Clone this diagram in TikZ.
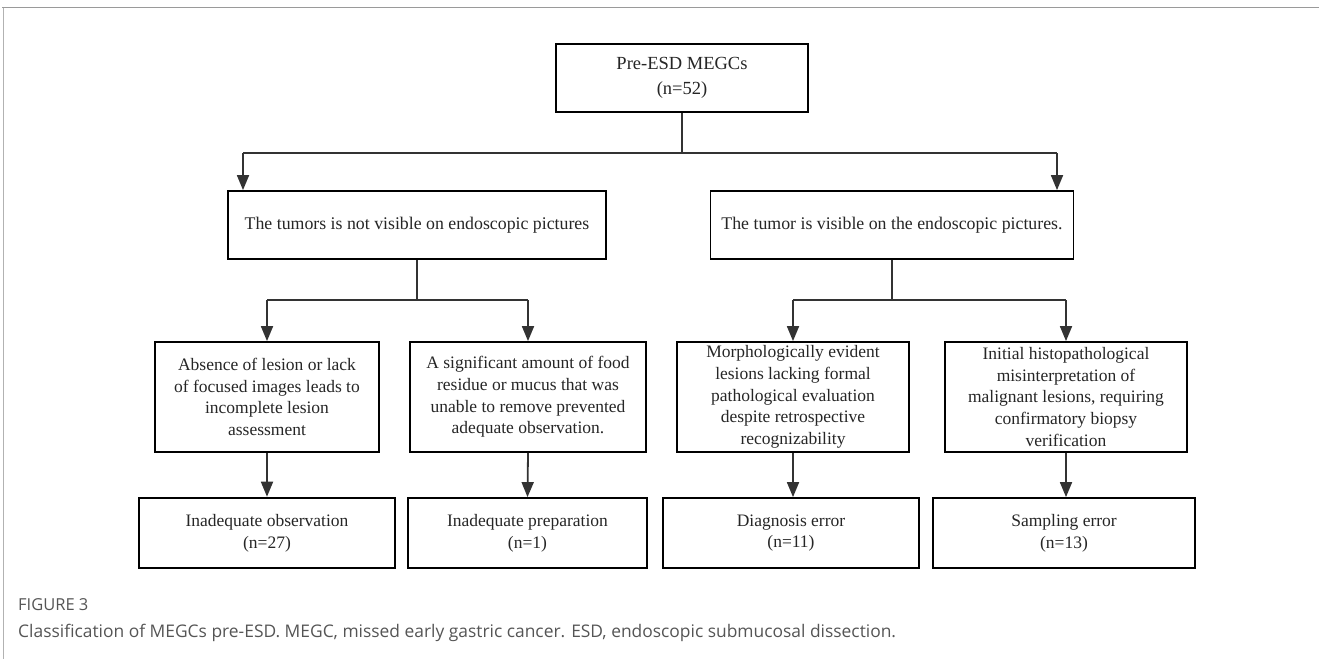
\documentclass[tikz,border=0pt]{standalone}
\usepackage{fontspec}
\setmainfont{Liberation Serif}
\newfontfamily\capfont{Open Sans}
\usetikzlibrary{arrows.meta}
\definecolor{conn}{HTML}{333333}
\definecolor{capgray}{HTML}{555555}
\definecolor{framegray}{HTML}{9A9A9A}
\begin{document}
\begin{tikzpicture}[x=1pt,y=-1pt,
  box/.style={draw=black, line width=1.8pt, fill=white, inner sep=0pt, align=center,
    font=\fontsize{17.5}{21.7}\selectfont, text=black!85},
  thickbox/.style={box, line width=2.6pt},
  conline/.style={draw=conn, line width=1.8pt},
  arr/.style={conline, -{Triangle[length=15pt,width=12pt]}},
  captxt/.style={anchor=west, inner sep=0pt, text=capgray}
]
\useasboundingbox (0,0) rectangle (1319,659);
% frame
\draw[framegray, line width=1.4pt] (2,7.5) -- (1319,7.5);
\draw[black!30, line width=0.8pt] (3.5,7.5) -- (3.5,659);

% nodes
\node[thickbox, minimum width=252pt, minimum height=68pt, font=\fontsize{18.5}{25}\selectfont] (top) at (682,78) {Pre-ESD MEGCs\\(n=52)};

\node[box, minimum width=378pt, minimum height=68pt, font=\fontsize{17.8}{22}\selectfont] (l2a) at (417,225) {The tumors is not visible on endoscopic pictures};
\node[box, minimum width=363pt, minimum height=68pt, font=\fontsize{17.8}{22}\selectfont] (l2b) at (892,225) {The tumor is visible on the endoscopic pictures.};

\node[box, minimum width=224pt, minimum height=110pt] (l3a) at (267,397) {Absence of lesion or lack\\of focused images leads to\\incomplete lesion\\assessment};
\node[box, minimum width=236pt, minimum height=110pt] (l3b) at (528,397) {A significant amount of food\\residue or mucus that was\\unable to remove prevented\\adequate observation.};
\node[box, minimum width=232pt, minimum height=110pt] (l3c) at (793,397) {Morphologically evident\\lesions lacking formal\\pathological evaluation\\despite retrospective\\recognizability};
\node[box, minimum width=242pt, minimum height=110pt] (l3d) at (1066,397) {Initial histopathological\\misinterpretation of\\malignant lesions, requiring\\confirmatory biopsy\\verification};

\node[thickbox, minimum width=256pt, minimum height=70pt] (l4a) at (267,533) {Inadequate observation\\(n=27)};
\node[box, minimum width=239pt, minimum height=70pt] (l4b) at (527.5,533) {Inadequate preparation\\(n=1)};
\node[box, minimum width=256pt, minimum height=70pt] (l4c) at (791,533) {Diagnosis error\\(n=11)};
\node[box, minimum width=262pt, minimum height=70pt] (l4d) at (1064,533) {Sampling error\\(n=13)};

% connector junctions
\coordinate (j0) at (682,153);
\coordinate (j0a) at (243,153);
\coordinate (j0b) at (1057,153);
\coordinate (j1) at (417,300);
\coordinate (j1a) at (267,300);
\coordinate (j1b) at (528,300);
\coordinate (j2) at (892,300);
\coordinate (j2a) at (793,300);
\coordinate (j2b) at (1066,300);

\draw[conline] (top.south) -- (j0);
\draw[conline] (j0a) -- (j0b);
\draw[arr] (j0a) -- (j0a |- l2a.north);
\draw[arr] (j0b) -- (j0b |- l2b.north);

\draw[conline] (l2a.south) -- (j1);
\draw[conline] (j1a) -- (j1b);
\draw[arr] (j1a) -- (l3a.north);
\draw[arr] (j1b) -- (l3b.north);

\draw[conline] (l2b.south) -- (j2);
\draw[conline] (j2a) -- (j2b);
\draw[arr] (j2a) -- (l3c.north);
\draw[arr] (j2b) -- (l3d.north);

\draw[arr] (l3a.south) -- (l4a.north);
\draw[arr] (l3b.south) -- (l4b.north);
\draw[arr] (l3c.south) -- (l4c.north -| l3c.south);
\draw[arr] (l3d.south) -- (l4d.north -| l3d.south);

% caption
\node[captxt] (fig) at (18,605) {\fontsize{16.5}{19}\selectfont\capfont FIGURE 3};
\node[captxt] (cap) at (18,633) {\fontsize{17.4}{21}\selectfont\capfont Classification of MEGCs pre-ESD. MEGC, missed early gastric cancer. ESD, endoscopic submucosal dissection.};
\end{tikzpicture}
\end{document}
